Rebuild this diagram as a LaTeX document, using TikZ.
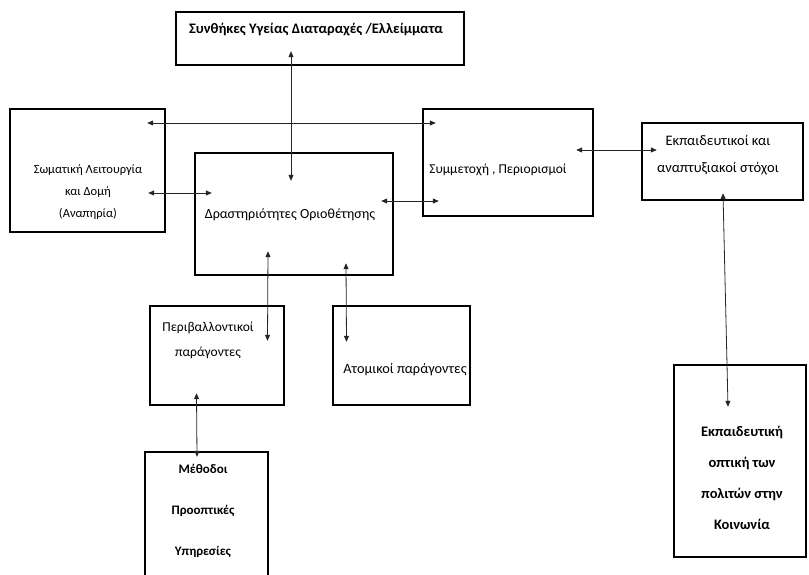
\documentclass[tikz,border=0pt]{standalone}
\usepackage{fontspec}
\setmainfont{Carlito}
\usetikzlibrary{arrows.meta,positioning}

\begin{document}
\begin{tikzpicture}[x=1pt, y=-1pt,
  box/.style={rectangle, draw, line width=2.4pt, inner sep=0pt},
  link/.style={{Triangle[length=6pt,width=5pt]}-{Triangle[length=6pt,width=5pt]}, line width=0.8pt, black!85},
  txt/.style={align=center, font=\fontsize{13.5}{22}\selectfont},
  btxt/.style={align=center, font=\bfseries\fontsize{13}{22}\selectfont}
]
  \useasboundingbox (0,0) rectangle (809,574);
  \clip (0,0) rectangle (809,574);

  % Top row
  \node[box, minimum width=288pt, minimum height=53pt] (health) at (320,38.5) {};
  \node[btxt, font=\bfseries\fontsize{14.5}{22}\selectfont] (healthTxt) at (316,30) {Συνθήκες Υγείας Διαταραχές /Ελλείμματα};

  % Middle row
  \node[box, minimum width=155pt, minimum height=123pt] (body) at (87.5,170.5) {};
  \node[txt, font=\fontsize{12.5}{22}\selectfont] (bodyTxt) at (88,192) {Σωματική Λειτουργία\\και Δομή\\(Αναπηρία)};

  \node[box, minimum width=198pt, minimum height=122pt] (act) at (294,214) {};
  \node[txt, font=\fontsize{14}{22}\selectfont] (actTxt) at (290,215) {Δραστηριότητες Οριοθέτησης};

  \node[box, minimum width=170pt, minimum height=107pt] (part) at (508,162.5) {};
  \node[txt] (partTxt) at (498,170) {Συμμετοχή , Περιορισμοί};

  \node[box, minimum width=161pt, minimum height=77pt] (goals) at (722.5,161.5) {};
  \node[txt, font=\fontsize{14.5}{27}\selectfont] (goalsTxt) at (718,155) {Εκπαιδευτικοί και\\αναπτυξιακοί στόχοι};

  % Factors
  \node[box, minimum width=134pt, minimum height=99pt] (env) at (217,355.5) {};
  \node[txt, font=\fontsize{13.5}{25}\selectfont] (envTxt) at (208,340) {Περιβαλλοντικοί\\παράγοντες};

  \node[box, minimum width=137pt, minimum height=99pt] (pers) at (401.5,355.5) {};
  \node[txt, font=\fontsize{14.3}{22}\selectfont] (persTxt) at (405,370) {Ατομικοί παράγοντες};

  % Bottom boxes
  \node[box, minimum width=123pt, minimum height=148pt] (meth) at (206.5,526) {};
  \node[btxt, font=\bfseries\fontsize{13}{41}\selectfont] (methTxt) at (203,511) {Μέθοδοι\\Προοπτικές\\Υπηρεσίες};

  \node[box, minimum width=132pt, minimum height=192pt] (view) at (740,461) {};
  \node[btxt, font=\bfseries\fontsize{14.5}{31}\selectfont] (viewTxt) at (742,478) {Εκπαιδευτική\\οπτική των\\πολιτών στην\\Κοινωνία};

  % Connectors
  \draw[link] ([xshift=-29pt,yshift=15pt]health.south) -- ([xshift=-3pt,yshift=-29pt]act.north);
  \draw[link] ([xshift=-19pt,yshift=47.5pt]body.east) -- ([xshift=14pt,yshift=39.5pt]part.west);
  \draw[link] ([xshift=-18pt,yshift=-22.5pt]body.east) -- ([xshift=18pt,yshift=21pt]act.west);
  \draw[link] ([xshift=-13pt,yshift=13pt]act.east) -- ([xshift=17pt,yshift=-38.5pt]part.west);
  \draw[link] ([xshift=-18pt,yshift=12.5pt]part.east) -- ([xshift=16pt,yshift=11.5pt]goals.west);
  \draw[link] ([xshift=0.5pt,yshift=8pt]goals.south) -- ([xshift=-12pt,yshift=-43pt]view.north);
  \draw[link] ([xshift=-26pt,yshift=25pt]act.south) -- ([xshift=50.5pt,yshift=-36pt]env.north);
  \draw[link] ([xshift=52pt,yshift=13pt]act.south) -- ([xshift=-55pt,yshift=-37pt]pers.north);
  \draw[link] ([xshift=-20.5pt,yshift=13pt]env.south) -- ([xshift=-9.5pt,yshift=-6pt]meth.north);
\end{tikzpicture}
\end{document}
